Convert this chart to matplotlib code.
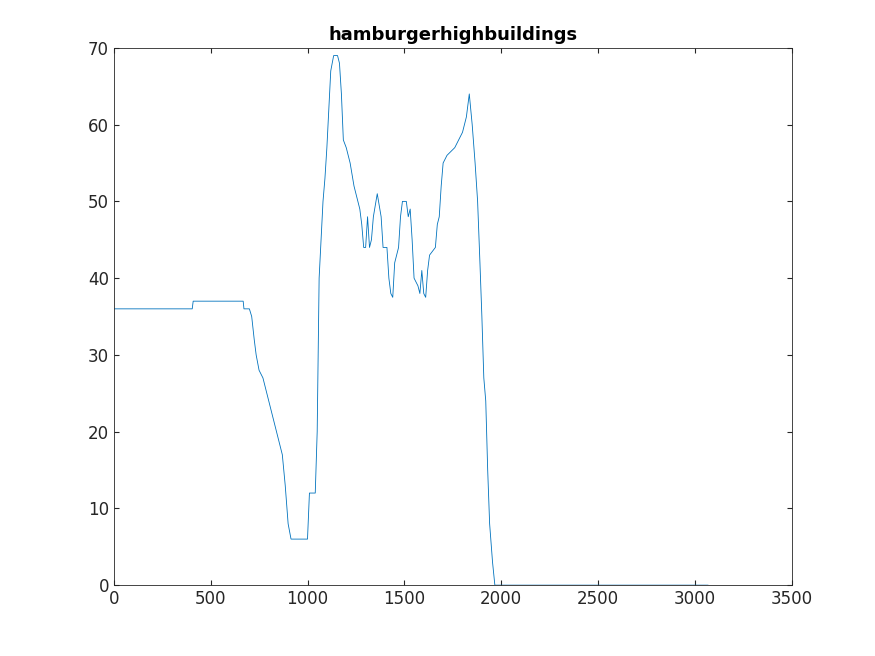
import matplotlib.pyplot as plt

# breakpoints
dist = [0, 405, 410, 668, 672, 700, 712, 725, 735, 750, 770, 790, 810, 830, 850, 870, 885,
        900, 915, 1000, 1010, 1040, 1050, 1060, 1070, 1080, 1090, 1100, 1110, 1120, 1135,
        1155, 1165, 1175, 1185, 1200, 1220, 1240, 1260, 1270, 1280, 1290, 1300, 1310, 1320,
        1330, 1340, 1360, 1380, 1390, 1410, 1420, 1430, 1440, 1450, 1460, 1470, 1480, 1490,
        1510, 1520, 1530, 1540, 1550, 1570, 1580, 1590, 1600, 1610, 1620, 1630, 1660, 1670,
        1680, 1690, 1700, 1720, 1760, 1780, 1800, 1810, 1820, 1835, 1850, 1865, 1878, 1890,
        1900, 1910, 1920, 1930, 1940, 1955, 1967, 3067]
height = [36, 36, 37, 37, 36, 36, 35, 32, 30, 28, 27, 25, 23, 21, 19, 17, 13,
          8, 6, 6, 12, 12, 20, 40, 45, 50, 53, 57, 62, 67, 69,
          69, 68, 64, 58, 57, 55, 52, 50, 49, 47, 44, 44, 48, 44,
          45, 48, 51, 48, 44, 44, 40, 38, 37.5, 42, 43, 44, 48, 50,
          50, 48, 49, 45, 40, 39, 38, 41, 38, 37.5, 41, 43, 44, 47,
          48, 52, 55, 56, 57, 58, 59, 60, 61, 64, 60, 55, 50, 42,
          35, 27, 24, 15, 8, 3, 0, 0]

fig = plt.figure(figsize=(8.75, 6.56), dpi=100)
ax = fig.add_axes([0.130, 0.108, 0.775, 0.819])
ax.plot(dist, height, color='#0072BD', linewidth=0.6)
ax.set_xlim(0, 3500)
ax.set_ylim(0, 70)
ax.set_xticks(range(0, 3501, 500))
ax.set_yticks(range(0, 71, 10))
ax.tick_params(direction='in', labelsize=12, colors='#262626', top=True, right=True)
for s in ax.spines.values():
    s.set_color('#262626')
    s.set_linewidth(0.6)
ax.set_title('hamburgerhighbuildings', fontsize=13, fontweight='bold')
fig.savefig('out.png')
